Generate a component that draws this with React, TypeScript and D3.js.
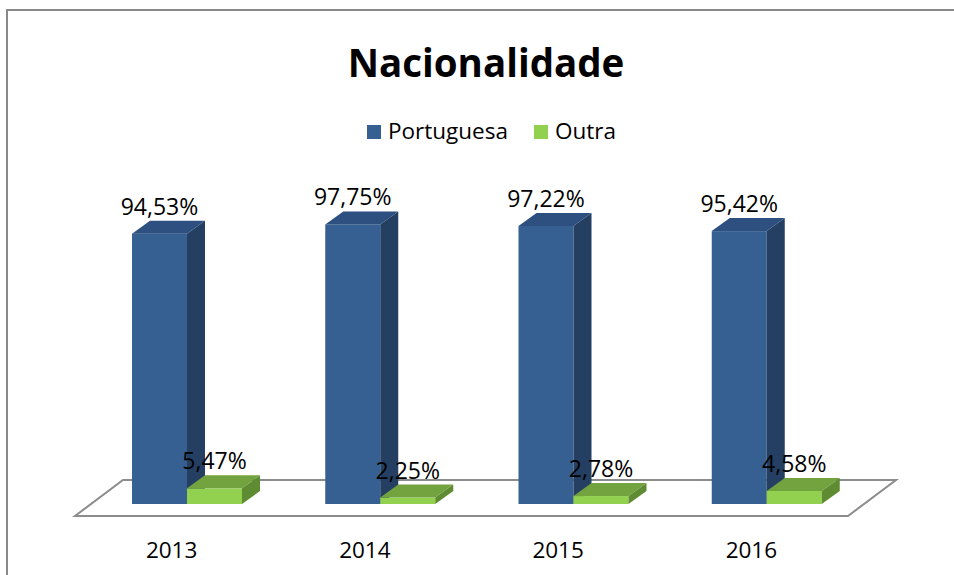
import React, { useEffect, useRef } from 'react';
import * as d3 from 'd3';

const years = ['2013', '2014', '2015', '2016'];
const portuguesa = [94.53, 97.75, 97.22, 95.42];
const outra = [5.47, 2.25, 2.78, 4.58];
const seriesNames = ['Portuguesa', 'Outra'];

const width = 954;
const height = 575;

// front, top, side
const blue = ['#376092', '#2D5080', '#243F62'];
const green = ['#92D050', '#72A33E', '#5F8C32'];

const font = '"Open Sans", sans-serif';

const App = () => {
  const ref = useRef(null);

  useEffect(() => {
    const svg = d3.select(ref.current);
    svg.selectAll('*').remove();

    const fmt = d3.formatLocale({ decimal: ',', thousands: '.', grouping: [3], currency: ['', ''] }).format('.2f');

    // frame
    svg.append('rect')
      .attr('x', 7).attr('y', 10)
      .attr('width', 1000).attr('height', 700)
      .attr('fill', '#fff')
      .attr('stroke', '#898989')
      .attr('stroke-width', 2);

    // floor (3d)
    const floorFront = 516;
    const floorBack = 480;
    const floorLeft = 75;
    const floorRight = 848;
    const floorDx = 48;
    svg.append('polygon')
      .attr('points', [
        [floorLeft, floorFront],
        [floorRight, floorFront],
        [floorRight + floorDx, floorBack],
        [floorLeft + floorDx, floorBack]
      ].map(p => p.join(',')).join(' '))
      .attr('fill', '#fff')
      .attr('stroke', '#8C8C8C')
      .attr('stroke-width', 2);

    const x = d3.scaleBand()
      .domain(years)
      .range([floorLeft, floorRight]);

    const base = 504;
    const y = d3.scaleLinear()
      .domain([0, 100])
      .range([base, base - 286]);

    const barW = 55;
    const offset = 57;
    const dx = 18;
    const dy = -13;

    const drawBar = (g, x0, v, colors) => {
      const top = y(v);
      g.append('rect')
        .attr('x', x0).attr('y', top)
        .attr('width', barW).attr('height', base - top)
        .attr('fill', colors[0]);
      g.append('polygon')
        .attr('points', [[x0, top], [x0 + dx, top + dy], [x0 + barW + dx, top + dy], [x0 + barW, top]].map(p => p.join(',')).join(' '))
        .attr('fill', colors[1]);
      g.append('polygon')
        .attr('points', [[x0 + barW, top], [x0 + barW + dx, top + dy], [x0 + barW + dx, base + dy], [x0 + barW, base]].map(p => p.join(',')).join(' '))
        .attr('fill', colors[2]);
    };

    const bars = svg.append('g');
    years.forEach((yr, i) => {
      const x0 = x(yr) + offset;
      drawBar(bars, x0, portuguesa[i], blue);
      drawBar(bars, x0 + barW, outra[i], green);
    });

    const labels = svg.append('g')
      .attr('font-family', font)
      .attr('font-size', 23)
      .attr('fill', '#000')
      .attr('text-anchor', 'middle');
    years.forEach((yr, i) => {
      const x0 = x(yr) + offset;
      labels.append('text')
        .attr('x', x0 + barW / 2)
        .attr('y', y(portuguesa[i]) + dy - 6)
        .text(fmt(portuguesa[i]) + '%');
      labels.append('text')
        .attr('x', x0 + barW * 1.5)
        .attr('y', y(outra[i]) + dy - 6)
        .text(fmt(outra[i]) + '%');
    });

    // category axis labels
    svg.append('g')
      .attr('font-family', font)
      .attr('font-size', 22.5)
      .attr('text-anchor', 'middle')
      .selectAll('text')
      .data(years)
      .join('text')
      .attr('x', d => x(d) + x.bandwidth() / 2)
      .attr('y', 558)
      .text(d => d);

    // title
    svg.append('text')
      .attr('x', 486)
      .attr('y', 77)
      .attr('text-anchor', 'middle')
      .attr('font-family', font)
      .attr('font-weight', 'bold')
      .attr('font-size', 38.5)
      .text('Nacionalidade');

    // legend
    const legendX = [367, 534];
    const legend = svg.append('g').attr('font-family', font).attr('font-size', 22.5);
    seriesNames.forEach((name, i) => {
      legend.append('rect')
        .attr('x', legendX[i]).attr('y', 125)
        .attr('width', 14).attr('height', 14)
        .attr('fill', i === 0 ? blue[0] : green[0]);
      legend.append('text')
        .attr('x', legendX[i] + 21)
        .attr('y', 139)
        .text(name);
    });
  }, []);

  return (
    <svg
      ref={ref}
      width={width}
      height={height}
      style={{ position: 'absolute', left: 0, top: 0, background: '#fff' }}
    />
  );
};

export default App;
